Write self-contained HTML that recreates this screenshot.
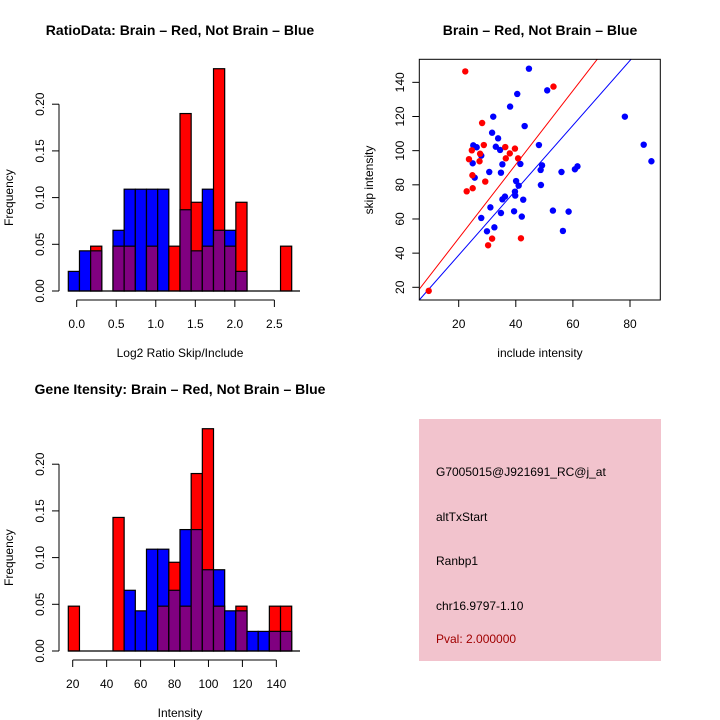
<!DOCTYPE html>
<html><head><meta charset="utf-8"><style>
body{margin:0;background:#fff}
svg{display:block;font-family:"Liberation Sans",sans-serif}
</style></head><body>
<svg id="chart" width="720" height="720" xmlns="http://www.w3.org/2000/svg">
<rect width="720" height="720" fill="#fff"/>
<text x="180" y="35" text-anchor="middle" font-size="14" font-weight="bold">RatioData: Brain – Red, Not Brain – Blue</text>
<text x="540" y="35" text-anchor="middle" font-size="14" font-weight="bold">Brain – Red, Not Brain – Blue</text>
<text x="180" y="394" text-anchor="middle" font-size="14" font-weight="bold">Gene Itensity: Brain – Red, Not Brain – Blue</text>
<g id="h1"></g>
<g id="h2"></g>
<g id="sc"></g>
<g>
<rect x="419" y="419" width="242" height="242" fill="#f2c3cd"/>
<text x="436" y="476" font-size="12">G7005015@J921691_RC@j_at</text>
<text x="436" y="521" font-size="12">altTxStart</text>
<text x="436" y="565" font-size="12">Ranbp1</text>
<text x="436" y="610" font-size="12">chr16.9797-1.10</text>
<text x="436" y="643" font-size="12" fill="#a00000">Pval: 2.000000</text>
</g>
</svg>
<script>
const ratioBlue=[0.021,0.043,0.043,0,0.065,0.109,0.109,0.109,0.109,0,0.087,0.043,0.109,0.065,0.065,0.021,0,0,0,0];
const ratioRed=[0,0,0.048,0,0.048,0.048,0,0.048,0,0.048,0.19,0.095,0.048,0.238,0.048,0.095,0,0,0,0.048];
const ratioTicks=[0,0.5,1,1.5,2,2.5];
const ratioTickLabels=["0.0","0.5","1.0","1.5","2.0","2.5"];
const intBlue=[0,0,0,0,0,0.065,0.043,0.109,0.109,0.065,0.13,0.13,0.087,0.087,0.043,0.043,0.021,0.021,0.021,0.021];
const intRed=[0.048,0,0,0,0.143,0,0,0,0.048,0.095,0.048,0.19,0.238,0.048,0,0.048,0,0,0.048,0.048];
const intTicks=[20,40,60,80,100,120,140];
const freqTicks=[0,0.05,0.1,0.15,0.2];
const freqTickLabels=["0.00","0.05","0.10","0.15","0.20"];
const redX=[22.3,53.2,28.2,24.6,23.6,28.8,27.5,27.3,24.8,24.9,22.8,29.3,36.3,39.7,37.9,36.5,40.8,31.7,30.3,41.8,9.5];
const redY=[146.4,137.5,116.2,100.2,95,103.3,98.2,93.8,85.6,78,76.2,81.9,102.1,101.2,98.4,95.5,95.5,48.5,44.6,48.7,17.9];
const blueX=[44.6,51,40.5,38,32.1,78.2,43.1,31.7,33.8,25.1,26.3,33,34.5,48.1,84.8,27.9,24.9,35.3,41.6,49.2,48.7,87.5,61.6,60.7,56,30.7,34.8,25.6,40.1,41,48.8,39.7,39.8,36.2,35.3,42.6,31.1,34.8,39.4,53,58.5,42.1,27.9,32.5,29.9,56.5];
const blueY=[148,135.3,133.2,125.8,119.9,119.9,114.4,110.5,107.2,103.1,102,102.3,100.4,103.3,103.5,97.1,92.6,92,92.2,91.4,88.7,93.8,90.8,89.1,87.5,87.5,87.1,84.2,82.2,79.5,79.9,76,73.7,73.1,71.5,71.3,66.8,63.5,64.5,64.9,64.3,61.4,60.6,55.1,52.8,53];
const fitSlopes=[2.16,1.9];
const fitIntercepts=[5.5,0.8];
const scXTicks=[20,40,60,80];
const scYTicks=[20,40,60,80,100,120,140];
const NS="http://www.w3.org/2000/svg";
function mk(p,t,a){const e=document.createElementNS(NS,t);for(const k in a)e.setAttribute(k,a[k]);p.appendChild(e);return e;}
function hist(g,blue,red,y0,xTicks,xLabels,xScale,xlab,axisY){
  const yS=v=>y0-v*934;
  const bx=i=>68.3+i*11.17;
  mk(g,'line',{x1:59,x2:59,y1:yS(0),y2:yS(0.2),stroke:'#000'});
  freqTicks.forEach((t,i)=>{
    const tk=mk(g,'line',{x1:52,x2:59,y1:yS(t),y2:yS(t),stroke:'#000'});
    
    
    const lb=mk(g,'text',{x:0,y:0,'font-size':12,'text-anchor':'middle',transform:`translate(44,${yS(t)}) rotate(-90)`});
    lb.textContent=freqTickLabels[i];
    
    
  });
  const yt=mk(g,'text',{x:0,y:0,'font-size':12,'text-anchor':'middle',transform:`translate(13,${yS(0.1)}) rotate(-90)`});
  yt.textContent='Frequency';
  
  
  blue.forEach((b,i)=>{
    const r=red[i],x=bx(i),w=11.17;
    const hi=Math.max(b,r),lo=Math.min(b,r);
    if(hi>0){const e=mk(g,'rect',{x,y:yS(hi),width:w,height:yS(0)-yS(hi),fill:b>=r?'#0000ff':'#ff0000',stroke:'#000','stroke-width':1.2});
      
      }
    if(lo>0){const e=mk(g,'rect',{x,y:yS(lo),width:w,height:yS(0)-yS(lo),fill:'#800080',stroke:'#000','stroke-width':1.2});
      
      }
  });
  mk(g,'line',{x1:68,x2:300,y1:y0,y2:y0,stroke:'#000','stroke-width':1.2});
  mk(g,'line',{x1:xScale(xTicks[0]),x2:xScale(xTicks[xTicks.length-1]),y1:axisY,y2:axisY,stroke:'#000'});
  xTicks.forEach((t,i)=>{
    const tk=mk(g,'line',{x1:xScale(t),x2:xScale(t),y1:axisY,y2:axisY+7,stroke:'#000'});
    
    
    const lb=mk(g,'text',{x:xScale(t),y:axisY+28,'font-size':12,'text-anchor':'middle'});
    lb.textContent=xLabels[i];
    
    
  });
  const xt=mk(g,'text',{x:180,y:axisY+57,'font-size':12,'text-anchor':'middle'});
  xt.textContent=xlab;
  
  
}
hist(document.getElementById('h1'),ratioBlue,ratioRed,291,ratioTicks,ratioTickLabels,v=>76.7+v*79.07,'Log2 Ratio Skip/Include',300);
hist(document.getElementById('h2'),intBlue,intRed,651,intTicks,intTicks.map(String),v=>72.7+(v-20)*1.697,'Intensity',660);
// scatter
const sc=document.getElementById('sc');
const sx=v=>458.7+(v-20)*2.855, sy=v=>287.3-(v-20)*1.708;
const L=419.3,R=660.3,T=59.3,B=300;
const defs=mk(sc,'clipPath',{id:'clp'});mk(defs,'rect',{x:L,y:T,width:R-L,height:B-T});
const fitColors=['#ff0000','#0000ff'];
fitSlopes.forEach((s,i)=>{
  const x0=-20,x1=120;
  const ln=mk(sc,'line',{x1:sx(x0),y1:sy(fitIntercepts[i]+s*x0),x2:sx(x1),y2:sy(fitIntercepts[i]+s*x1),stroke:fitColors[i],'stroke-width':1,'clip-path':'url(#clp)'});
  
  
});
blueX.forEach((x,i)=>{const c=mk(sc,'circle',{cx:sx(x),cy:sy(blueY[i]),r:3.2,fill:'#0000ff'});
  
  });
redX.forEach((x,i)=>{const c=mk(sc,'circle',{cx:sx(x),cy:sy(redY[i]),r:3.2,fill:'#ff0000'});
  
  });
mk(sc,'rect',{x:L,y:T,width:R-L,height:B-T,fill:'none',stroke:'#000'});
scXTicks.forEach(t=>{
  mk(sc,'line',{x1:sx(t),x2:sx(t),y1:B,y2:B+7,stroke:'#000'});
  const lb=mk(sc,'text',{x:sx(t),y:B+28,'font-size':12,'text-anchor':'middle'});
  lb.textContent=t;
  
  
});
scYTicks.forEach(t=>{
  mk(sc,'line',{x1:L-7,x2:L,y1:sy(t),y2:sy(t),stroke:'#000'});
  const lb=mk(sc,'text',{x:0,y:0,'font-size':12,'text-anchor':'middle',transform:`translate(404,${sy(t)}) rotate(-90)`});
  lb.textContent=t;
  
  
});
const sxt=mk(sc,'text',{x:540,y:357,'font-size':12,'text-anchor':'middle'});sxt.textContent='include intensity';


const syt=mk(sc,'text',{x:0,y:0,'font-size':12,'text-anchor':'middle',transform:'translate(373,180) rotate(-90)'});syt.textContent='skip intensity';


</script>
</body></html>
